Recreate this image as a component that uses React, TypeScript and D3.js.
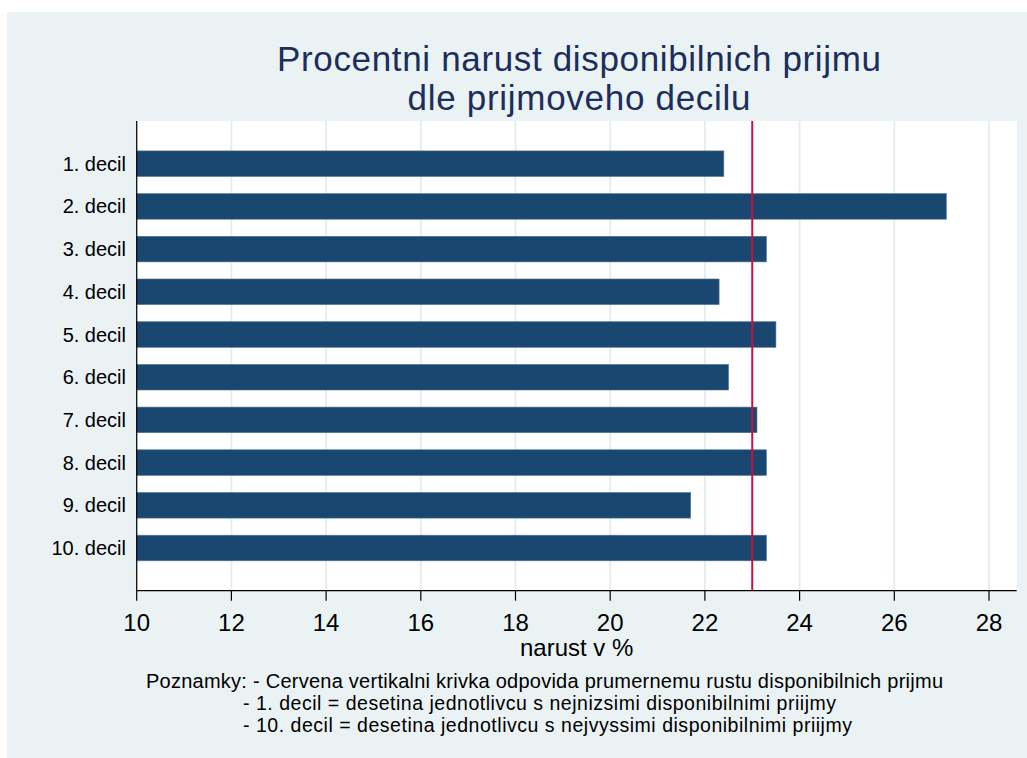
import * as d3 from 'd3';

const WIDTH = 1027;
const HEIGHT = 758;
const PLOT = { left: 136.7, right: 1016.7, top: 121, bottom: 590.7 };

const deciles = [
  '1. decil', '2. decil', '3. decil', '4. decil', '5. decil',
  '6. decil', '7. decil', '8. decil', '9. decil', '10. decil',
];
const growth = [22.4, 27.1, 23.3, 22.3, 23.5, 22.5, 23.1, 23.3, 21.7, 23.3];
const meanGrowth = 23.0;
const xTicks = [10, 12, 14, 16, 18, 20, 22, 24, 26, 28];

const titleLines = ['Procentni narust disponibilnich prijmu', 'dle prijmoveho decilu'];
const xTitle = 'narust v %';
const notes = [
  'Poznamky: - Cervena vertikalni krivka odpovida prumernemu rustu disponibilnich prijmu',
  '- 1. decil = desetina jednotlivcu s nejnizsimi disponibilnimi priijmy',
  '- 10. decil = desetina jednotlivcu s nejvyssimi disponibilnimi priijmy',
];

const FONT = 'Liberation Sans, Arial, sans-serif';

// measured widths of the text lines in the reference
const titleWidths = [604, 343];
const noteWidths = [797, 593, 609];

const App = () => {
  const xScale = d3.scaleLinear().domain([10, 28]).range([PLOT.left, 989]);
  const yScale = d3.scalePoint().domain(deciles).range([PLOT.top, PLOT.bottom]).padding(1);
  const barH = yScale.step() * 0.6;
  const midX = (PLOT.left + PLOT.right) / 2;

  return (
    <svg width={WIDTH} height={HEIGHT} style={{ position: 'absolute', left: 0, top: 0 }} fontFamily={FONT}>
      <rect x={0} y={0} width={WIDTH} height={HEIGHT} fill="#ffffff" />
      <rect x={7} y={12} width={WIDTH - 7} height={HEIGHT - 12} fill="#EAF2F3" />
      <rect x={PLOT.left} y={PLOT.top} width={PLOT.right - PLOT.left} height={PLOT.bottom - PLOT.top} fill="#ffffff" />

      {/* grid */}
      {xTicks.map((t) => (
        <line key={t} x1={xScale(t)} x2={xScale(t)} y1={PLOT.top} y2={PLOT.bottom} stroke="#E3EDEF" strokeWidth={1.8} />
      ))}

      {/* bars */}
      {deciles.map((d, i) => (
        <rect
          key={d}
          x={xScale(10)}
          y={(yScale(d) ?? 0) - barH / 2}
          width={xScale(growth[i]) - xScale(10)}
          height={barH}
          fill="#1A476F"
          stroke="#55799A"
          strokeWidth={0.6}
        />
      ))}

      {/* mean line */}
      <line x1={xScale(meanGrowth)} x2={xScale(meanGrowth)} y1={PLOT.top} y2={PLOT.bottom} stroke="#C8103C" strokeWidth={2} />

      {/* axes */}
      <line x1={PLOT.left} x2={PLOT.left} y1={PLOT.top} y2={PLOT.bottom} stroke="#000" strokeWidth={1.2} />
      <line x1={PLOT.left} x2={PLOT.right} y1={PLOT.bottom} y2={PLOT.bottom} stroke="#000" strokeWidth={1.2} />
      {xTicks.map((t) => (
        <g key={t}>
          <line x1={xScale(t)} x2={xScale(t)} y1={PLOT.bottom} y2={PLOT.bottom + 10} stroke="#000" strokeWidth={1.2} />
          <text x={xScale(t)} y={631} textAnchor="middle" fontSize={24} fill="#000">{t}</text>
        </g>
      ))}
      {deciles.map((d) => (
        <text key={d} x={126} y={(yScale(d) ?? 0) + 7} textAnchor="end" fontSize={20} fill="#000">{d}</text>
      ))}

      <text x={midX} y={656} textAnchor="middle" fontSize={24} fill="#000">{xTitle}</text>

      {titleLines.map((line, i) => (
        <text
          key={i}
          x={579}
          y={70.5 + i * 39.5}
          textAnchor="middle"
          fontSize={35}
          fill="#1C2E5C"
          textLength={titleWidths[i]}
          lengthAdjust="spacing"
        >
          {line}
        </text>
      ))}

      <text x={146} y={687.5} fontSize={20} fill="#000" textLength={noteWidths[0]} lengthAdjust="spacing">{notes[0]}</text>
      <text x={243} y={709.5} fontSize={19.5} fill="#000" textLength={noteWidths[1]} lengthAdjust="spacing">{notes[1]}</text>
      <text x={243} y={731.5} fontSize={19.5} fill="#000" textLength={noteWidths[2]} lengthAdjust="spacing">{notes[2]}</text>
    </svg>
  );
};

export default App;
